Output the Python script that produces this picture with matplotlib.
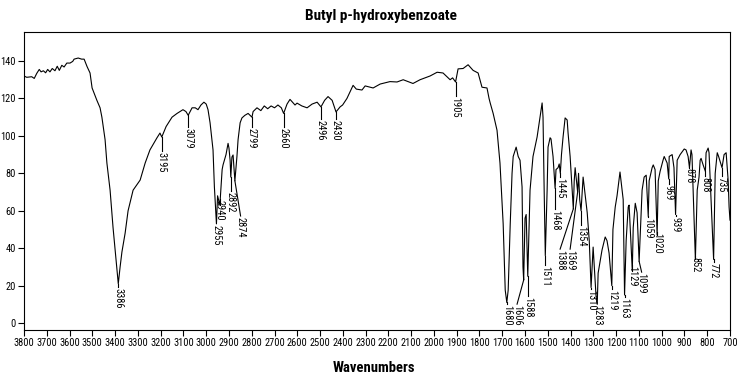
import matplotlib
matplotlib.use("Agg")
import matplotlib.pyplot as plt
from matplotlib import font_manager

# narrow sans if available, otherwise the narrowest installed one
installed = {f.name for f in font_manager.fontManager.ttflist}
narrow = 'Liberation Sans'
for name in ['Liberation Sans Narrow', 'Roboto Condensed', 'Open Sans Condensed']:
    if name in installed:
        narrow = name
        break
plt.rcParams['font.family'] = [narrow, 'DejaVu Sans']

# spectrum (wavenumber, %T)
wavenumber = [3800, 3788, 3766, 3755, 3744, 3733, 3725, 3715, 3705, 3696, 3686, 3676, 3664, 3654,
              3645, 3634, 3624, 3612, 3598, 3586, 3580, 3562, 3547, 3536, 3523, 3510, 3501, 3480,
              3466, 3458, 3444, 3436, 3422, 3409, 3395, 3386, 3378, 3370, 3356, 3343, 3321, 3290,
              3268, 3247, 3216, 3203, 3195, 3176, 3150, 3128, 3102, 3089, 3079, 3062, 3048, 3036,
              3023, 3010, 3000, 2992, 2983, 2970, 2964, 2955, 2950, 2940, 2930, 2926, 2913, 2904,
              2900, 2895, 2892, 2887, 2882, 2874, 2865, 2860, 2851, 2843, 2830, 2816, 2799, 2794,
              2777, 2760, 2745, 2730, 2715, 2700, 2685, 2670, 2660, 2645, 2632, 2610, 2601, 2580,
              2557, 2535, 2513, 2496, 2480, 2465, 2447, 2430, 2412, 2401, 2382, 2355, 2341, 2316,
              2302, 2267, 2236, 2193, 2162, 2135, 2092, 2061, 2017, 1986, 1960, 1929, 1918, 1905,
              1894, 1872, 1850, 1828, 1806, 1789, 1767, 1758, 1753, 1740, 1723, 1710, 1696, 1687,
              1680, 1674, 1665, 1657, 1652, 1639, 1630, 1622, 1613, 1609, 1606, 1600, 1595, 1588,
              1578, 1565, 1547, 1534, 1525, 1521, 1516, 1511, 1503, 1499, 1490, 1486, 1477, 1468,
              1464, 1455, 1450, 1445, 1440, 1433, 1424, 1415, 1411, 1402, 1393, 1388, 1384, 1380,
              1369, 1365, 1360, 1354, 1345, 1327, 1318, 1310, 1301, 1288, 1283, 1279, 1262, 1248,
              1240, 1231, 1219, 1214, 1204, 1196, 1190, 1183, 1169, 1163, 1156, 1147, 1143, 1134,
              1129, 1125, 1116, 1108, 1099, 1086, 1077, 1068, 1059, 1055, 1042, 1037, 1029, 1020,
              1015, 1007, 994, 989, 976, 969, 967, 954, 946, 939, 932, 919, 901, 893, 884, 878,
              871, 867, 852, 844, 836, 831, 827, 818, 808, 805, 796, 792, 772, 765, 756, 750, 735,
              726, 717, 708, 704, 700]
transmittance = [132, 131.3, 131.6, 130.7, 133.4, 135.5, 134.2, 134.8, 133.7, 135.5, 134.2, 136, 134.8, 137.2,
                 135, 137.7, 136.8, 138.9, 138.9, 139.8, 141, 141.6, 141, 141, 137, 133.6, 125.6, 119,
                 115, 110, 98, 85.5, 71, 51, 33, 21, 30, 38, 48, 60, 71, 76.4,
                 85.5, 92.5, 99, 101.5, 99.4, 105, 110, 112, 114, 113, 111, 115, 115, 114,
                 116.5, 118, 117, 114, 107, 92.5, 72.7, 53, 68, 63, 82, 84.5, 90, 96,
                 93.5, 87, 78, 88.7, 89.8, 76, 89, 98, 107, 109.6, 111, 112, 110, 113,
                 115, 113.5, 116, 114.5, 116, 115, 116.5, 115, 112, 117, 119.5, 116.5, 117.5, 116,
                 115, 117, 118, 115.5, 119, 121, 119, 112.8, 115.5, 116.5, 120, 127, 125, 124.5,
                 126.7, 125.6, 127.7, 129, 128.8, 130, 128, 130, 132, 134, 133.6, 130, 131, 128.8,
                 135.8, 136, 138, 135, 133.6, 126, 125.6, 120, 117.6, 112, 103, 85.5, 53, 17.6,
                 11, 17.6, 53, 80, 89, 94, 89, 87, 72.7, 30, 23, 56, 58, 25,
                 71, 89, 99.4, 110, 117.6, 110, 71, 36, 71, 94, 99, 98.4, 89, 72,
                 82, 83, 85, 80, 90, 99.4, 109.6, 108.5, 101.5, 89, 71, 61, 76, 83,
                 70, 80, 66, 60, 78, 59, 44, 19, 40.6, 14, 10, 26.7, 39, 46,
                 44, 37.4, 20, 50, 62, 68, 74, 80.7, 66, 15, 44, 62, 63, 40.6,
                 28, 51, 64, 59, 33, 71, 78, 79, 57, 76, 83, 84.5, 82, 47,
                 76, 81, 87, 89, 85.5, 77, 89, 90, 83, 58, 87, 90, 93, 92.5, 89, 83,
                 92.5, 90, 34, 71, 78, 87, 88, 84.5, 81, 91, 93.5, 91, 34, 80, 91, 89, 83,
                 90, 91, 76, 62, 55]

# labelled peaks
peak_labels = [3386, 3195, 3079, 2955, 2940, 2892, 2874, 2799, 2660, 2496, 2430, 1905,
               1680, 1606, 1588, 1511, 1468, 1445, 1388, 1369, 1354, 1310, 1283, 1219,
               1163, 1129, 1099, 1059, 1020, 969, 939, 878, 852, 808, 772, 735]

# where each label text starts (top of text, %T) and its x if shifted by a leader line
label_top = {3386: 18.7, 3195: 91.4, 3079: 104.2, 2955: 52.4, 2940: 65.7, 2892: 70,
             2874: 56.7, 2799: 104.2, 2660: 104.2, 2496: 108.5, 2430: 108.5, 1905: 120.8,
             1680: 9.6, 1606: 9.6, 1588: 13.9, 1511: 30.5, 1468: 60.4, 1445: 77.5,
             1388: 39, 1369: 39, 1354: 51.8, 1310: 17.6, 1283: 9.6, 1219: 17.6,
             1163: 13.4, 1129: 30.5, 1099: 26.7, 1059: 56, 1020: 48, 969: 73.8,
             939: 56.7, 878: 82.8, 852: 35.3, 808: 78, 772: 32, 735: 78}
label_x = {2874: 2849, 1606: 1635, 1388: 1446, 1369: 1402, 1099: 1088}

fig = plt.figure(figsize=(7.44, 3.81), dpi=100)
ax = fig.add_axes([24/744, 1 - 330/381, 706/744, 298/381])

ax.plot(wavenumber, transmittance, color='black', lw=0.8)

wn_to_t = dict(zip(wavenumber, transmittance))
for p in peak_labels:
    tip = wn_to_t[p]
    top = label_top[p]
    tx = label_x.get(p, p)
    ax.plot([p, tx], [tip, top + 0.5], color='black', lw=0.8)
    ax.text(tx, top, str(p), rotation=270, ha='center', va='top', fontsize=7.5)

ax.set_xlim(3800, 700)
ax.set_ylim(-3.7, 155.5)
ax.set_xticks(range(3800, 699, -100))
ax.set_yticks(range(0, 141, 20))
ax.tick_params(direction='out', length=4, width=0.8, labelsize=7.5, pad=2)
for s in ax.spines.values():
    s.set_linewidth(0.8)

fig.text(381/744, 1 - 16/381, 'Butyl p-hydroxybenzoate', ha='center', va='center',
         fontsize=11, fontweight='bold')
fig.text(374/744, 1 - 368/381, 'Wavenumbers', ha='center', va='center',
         fontsize=10.5, fontweight='bold')

fig.savefig('out.png', dpi=100)
